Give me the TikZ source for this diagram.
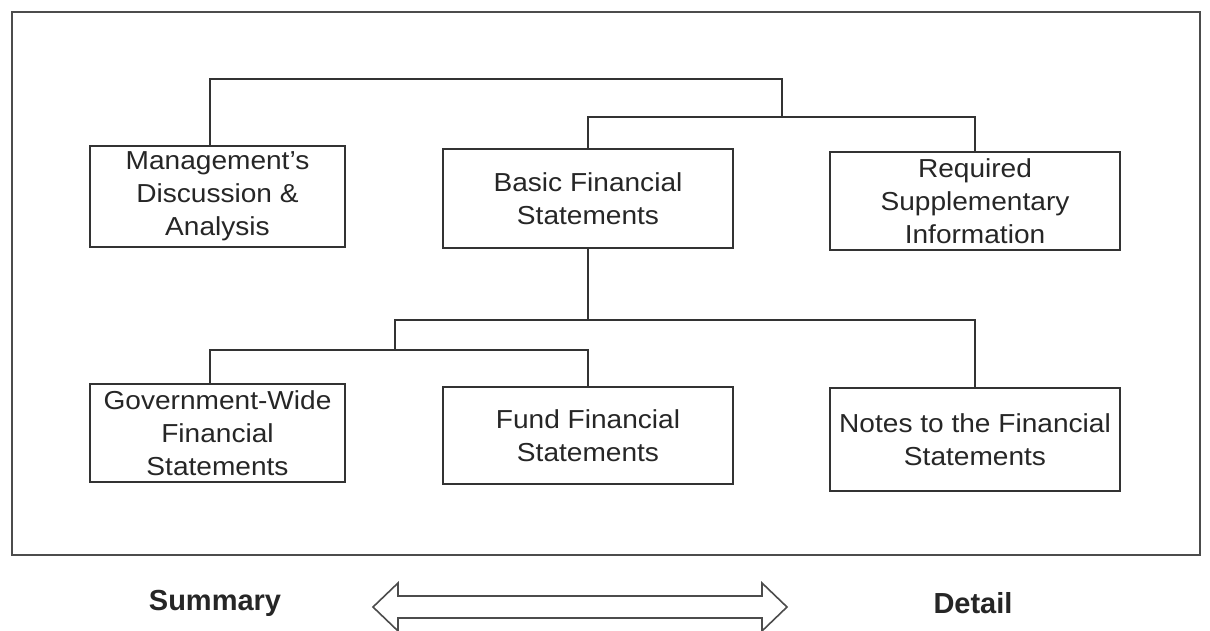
\documentclass[tikz,border=0pt]{standalone}
\usepackage{fontspec}
\setmainfont{Liberation Sans}[FakeStretch=1.08]
\newfontfamily\labelfont{Liberation Sans}
\begin{document}
\begin{tikzpicture}[x=1pt,y=-1pt,
  box/.style={draw=black!80, line width=2.2pt, align=center, inner sep=0pt,
    font=\fontsize{26}{33}\selectfont, text=black!85},
  conn/.style={draw=black!80, line width=1.6pt},
  frame/.style={draw=black!70, line width=2.4pt},
  lbl/.style={font=\labelfont\bfseries\fontsize{29}{33}\selectfont, text=black!85},
  dblarrow/.style={draw=black!70, line width=1.6pt, line join=miter}]
\useasboundingbox (0,0) rectangle (1210,630);
\fill[white] (0,0) rectangle (1210,630);
% outer frame
\draw[frame] (12,12) rectangle (1200,555);
% boxes
\node[box, minimum width=255pt, minimum height=101pt] (mda) at (217.5,196.5) {Management's\\Discussion \&\\Analysis};
\node[box, minimum width=290pt, minimum height=99pt] (bfs) at (588,198.5) {Basic Financial\\Statements};
\node[box, minimum width=290pt, minimum height=98pt] (rsi) at (975,201) {Required\\Supplementary\\Information};
\node[box, minimum width=255pt, minimum height=98pt] (gw) at (217.5,433) {Government-Wide\\Financial\\Statements};
\node[box, minimum width=290pt, minimum height=97pt] (ffs) at (588,435.5) {Fund Financial\\Statements};
\node[box, minimum width=290pt, minimum height=103pt] (nfs) at (975,439.5) {Notes to the Financial\\Statements};
% junction coordinates
\coordinate (t1) at (210,79);
\coordinate (t2) at (782,79);
\coordinate (t3) at (782,117);
\coordinate (m1) at (395,320);
\coordinate (m2) at (395,350);
\coordinate (gwt) at (210,384);
\coordinate (mdat) at (210,146);
% upper tree
\draw[conn] (mdat) -- (t1) -- (t2) -- (t3);
\draw[conn] (bfs.north) |- (t3) -| (rsi.north);
% lower tree
\draw[conn] (bfs.south) |- (m1) -- (m2);
\draw[conn] (bfs.south |- m1) -| (nfs.north);
\draw[conn] (m2) -| (gwt);
\draw[conn] (m2) -| (ffs.north);
% bottom labels
\node[lbl] (sum) at (215,603) {Summary};
\node[lbl] (det) at (973,603) {Detail};
% double arrow
\coordinate (la) at (373,607);
\coordinate (ra) at (787,607);
\draw[dblarrow] (la) -- (398,583) -- (398,596) -- (762,596) -- (762,583) -- (ra)
  -- (762,631) -- (762,618) -- (398,618) -- (398,631) -- cycle;
\end{tikzpicture}
\end{document}
